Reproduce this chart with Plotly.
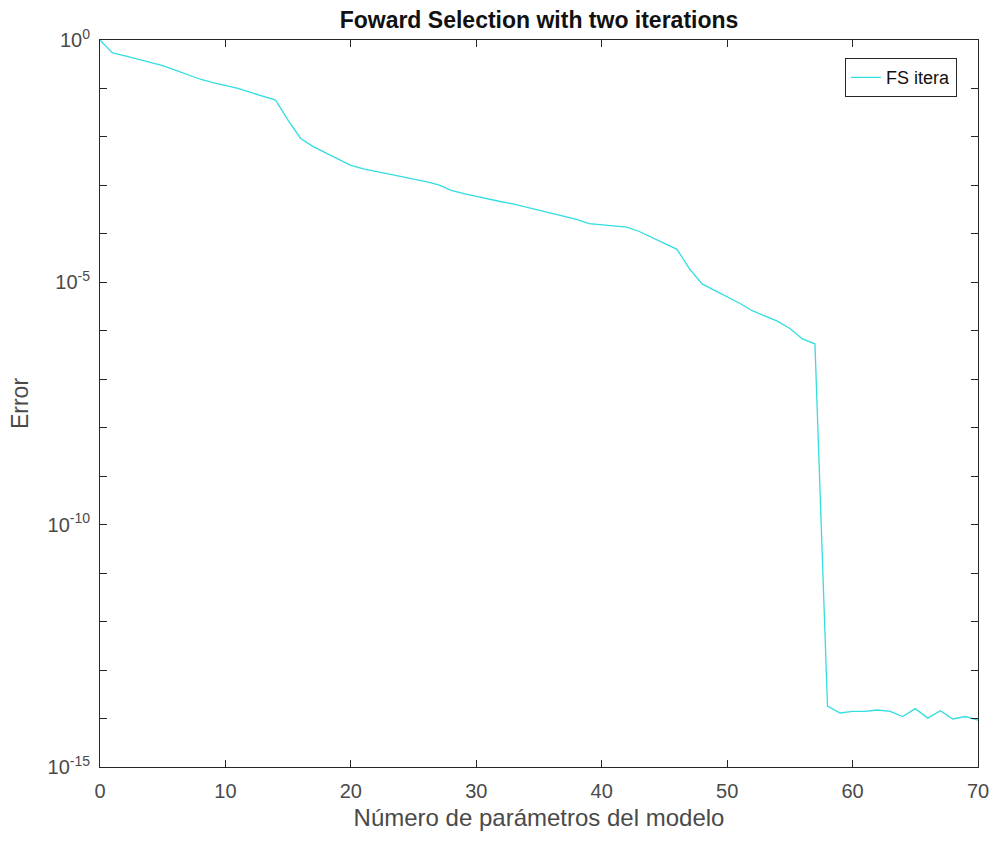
import plotly.graph_objects as go

# Number of model parameters and the model error at each step
n_params = list(range(0, 71))
error = [
    1.0, 5.4e-1, 4.7e-1, 4.0e-1, 3.4e-1, 2.95e-1, 2.4e-1, 1.9e-1, 1.55e-1, 1.32e-1,
    1.15e-1, 1.0e-1, 8.3e-2, 6.9e-2, 5.75e-2, 2.2e-2, 9.3e-3, 6.3e-3, 4.7e-3, 3.4e-3,
    2.6e-3, 2.2e-3, 1.95e-3, 1.78e-3, 1.58e-3, 1.38e-3, 1.2e-3, 1.02e-3, 7.9e-4, 6.8e-4,
    5.9e-4, 5.25e-4, 4.6e-4, 4.1e-4, 3.55e-4, 3.1e-4, 2.7e-4, 2.35e-4, 2.0e-4, 1.62e-4,
    1.55e-4, 1.48e-4, 1.38e-4, 1.12e-4, 8.5e-5, 6.5e-5, 4.8e-5, 1.9e-5, 9.3e-6, 6.8e-6,
    5.1e-6, 3.7e-6, 2.6e-6, 2.0e-6, 1.58e-6, 1.12e-6, 6.8e-7, 5.4e-7, 1.8e-14, 1.3e-14,
    1.4e-14, 1.4e-14, 1.5e-14, 1.4e-14, 1.1e-14, 1.6e-14, 1.02e-14, 1.45e-14, 9.8e-15, 1.1e-14,
    9.3e-15,
]

x_ticks = [0, 10, 20, 30, 40, 50, 60, 70]
y_tick_exps = list(range(0, -16, -1))
y_tick_vals = [10.0 ** e for e in y_tick_exps]
y_tick_text = [f"10<sup>{e}</sup>" if e % 5 == 0 else "" for e in y_tick_exps]

axis_color = "#262626"
label_color = "#4a4a4a"
font_family = "Liberation Sans, Arial, sans-serif"

fig = go.Figure()
fig.add_trace(go.Scatter(
    x=n_params, y=error, mode="lines", name="FS itera",
    line=dict(color="#33dde0", width=1.3),
))

fig.update_layout(
    width=994, height=841,
    margin=dict(l=100, r=16, t=40, b=74, autoexpand=False),
    paper_bgcolor="white", plot_bgcolor="white",
    font=dict(family=font_family, color=label_color, size=18),
    title=dict(
        text="<b>Foward Selection with two iterations</b>",
        x=(100 + 878 / 2) / 994, xanchor="center",
        y=1 - 20 / 841, yanchor="middle",
        font=dict(size=23, color="#111111", family=font_family),
    ),
    showlegend=True,
    legend=dict(
        x=0.976, xanchor="right", y=0.975, yanchor="top",
        bgcolor="white", bordercolor=axis_color, borderwidth=1,
        font=dict(size=18, color="#111111"),
        tracegroupgap=0,
    ),
)

fig.update_xaxes(
    range=[0, 70], tickvals=x_ticks,
    showgrid=False, zeroline=False, automargin=False,
    showline=True, linecolor=axis_color, linewidth=1, mirror="allticks",
    ticks="inside", ticklen=7, tickcolor=axis_color,
    tickfont=dict(size=20, color=label_color),
    ticklabelstandoff=6,
    title=dict(text="Número de parámetros del modelo", font=dict(size=24, color=label_color), standoff=8),
)

fig.update_yaxes(
    type="log", range=[-15, 0],
    tickvals=y_tick_vals, ticktext=y_tick_text,
    showgrid=False, zeroline=False, automargin=False,
    showline=True, linecolor=axis_color, linewidth=1, mirror="allticks",
    ticks="inside", ticklen=7, tickcolor=axis_color,
    tickfont=dict(size=20, color=label_color),
    ticklabelstandoff=5,
    title=dict(text="Error", font=dict(size=23, color=label_color), standoff=12),
)

fig.write_html("out.html")
